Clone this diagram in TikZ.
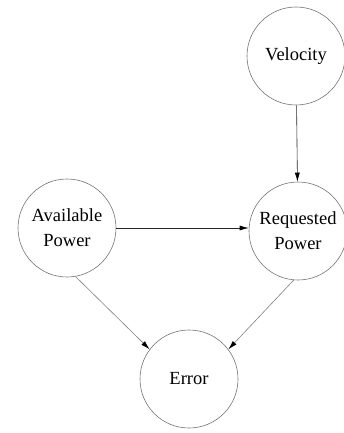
\documentclass[tikz,border=0pt]{standalone}
\usepackage{fontspec}
\setmainfont{Liberation Serif}
\usetikzlibrary{arrows.meta}

\begin{document}
\begin{tikzpicture}
      [x=1pt,y=-1pt,%%%%%%%%%%%%%%%%%%%%%%%%%%%%%%
      state/.style={circle,draw=black!55,line width=0.6pt,minimum size=98pt,inner sep=0pt,
                    align=center,font=\fontsize{18.5}{25}\selectfont},
      link/.style={-{Latex[length=9pt,width=5pt,color=black]},line width=0.6pt},
      ]%%%%%%%%%%%%%%%%%%%%%%%%%%%%%%
      \useasboundingbox (0,0) rectangle (344,433);

      \node[state] (vel) at (296,56) {Velocity};
      \node[state] (req) at (298,231) {Requested\\Power};
      \node[state] (avail) at (67,228) {Available\\Power};
      \node[state] (err) at (189,379) {Error};

      \draw[link,black!85] (vel) -- (req);
      \draw[link,black!85] (avail.east) -- (avail.east -| req.west);
      \draw[link,black!50] (avail.-80) -- (err.143);
      \draw[link,black!50] (req.-95) -- (err.37);
    \end{tikzpicture}
\end{document}
